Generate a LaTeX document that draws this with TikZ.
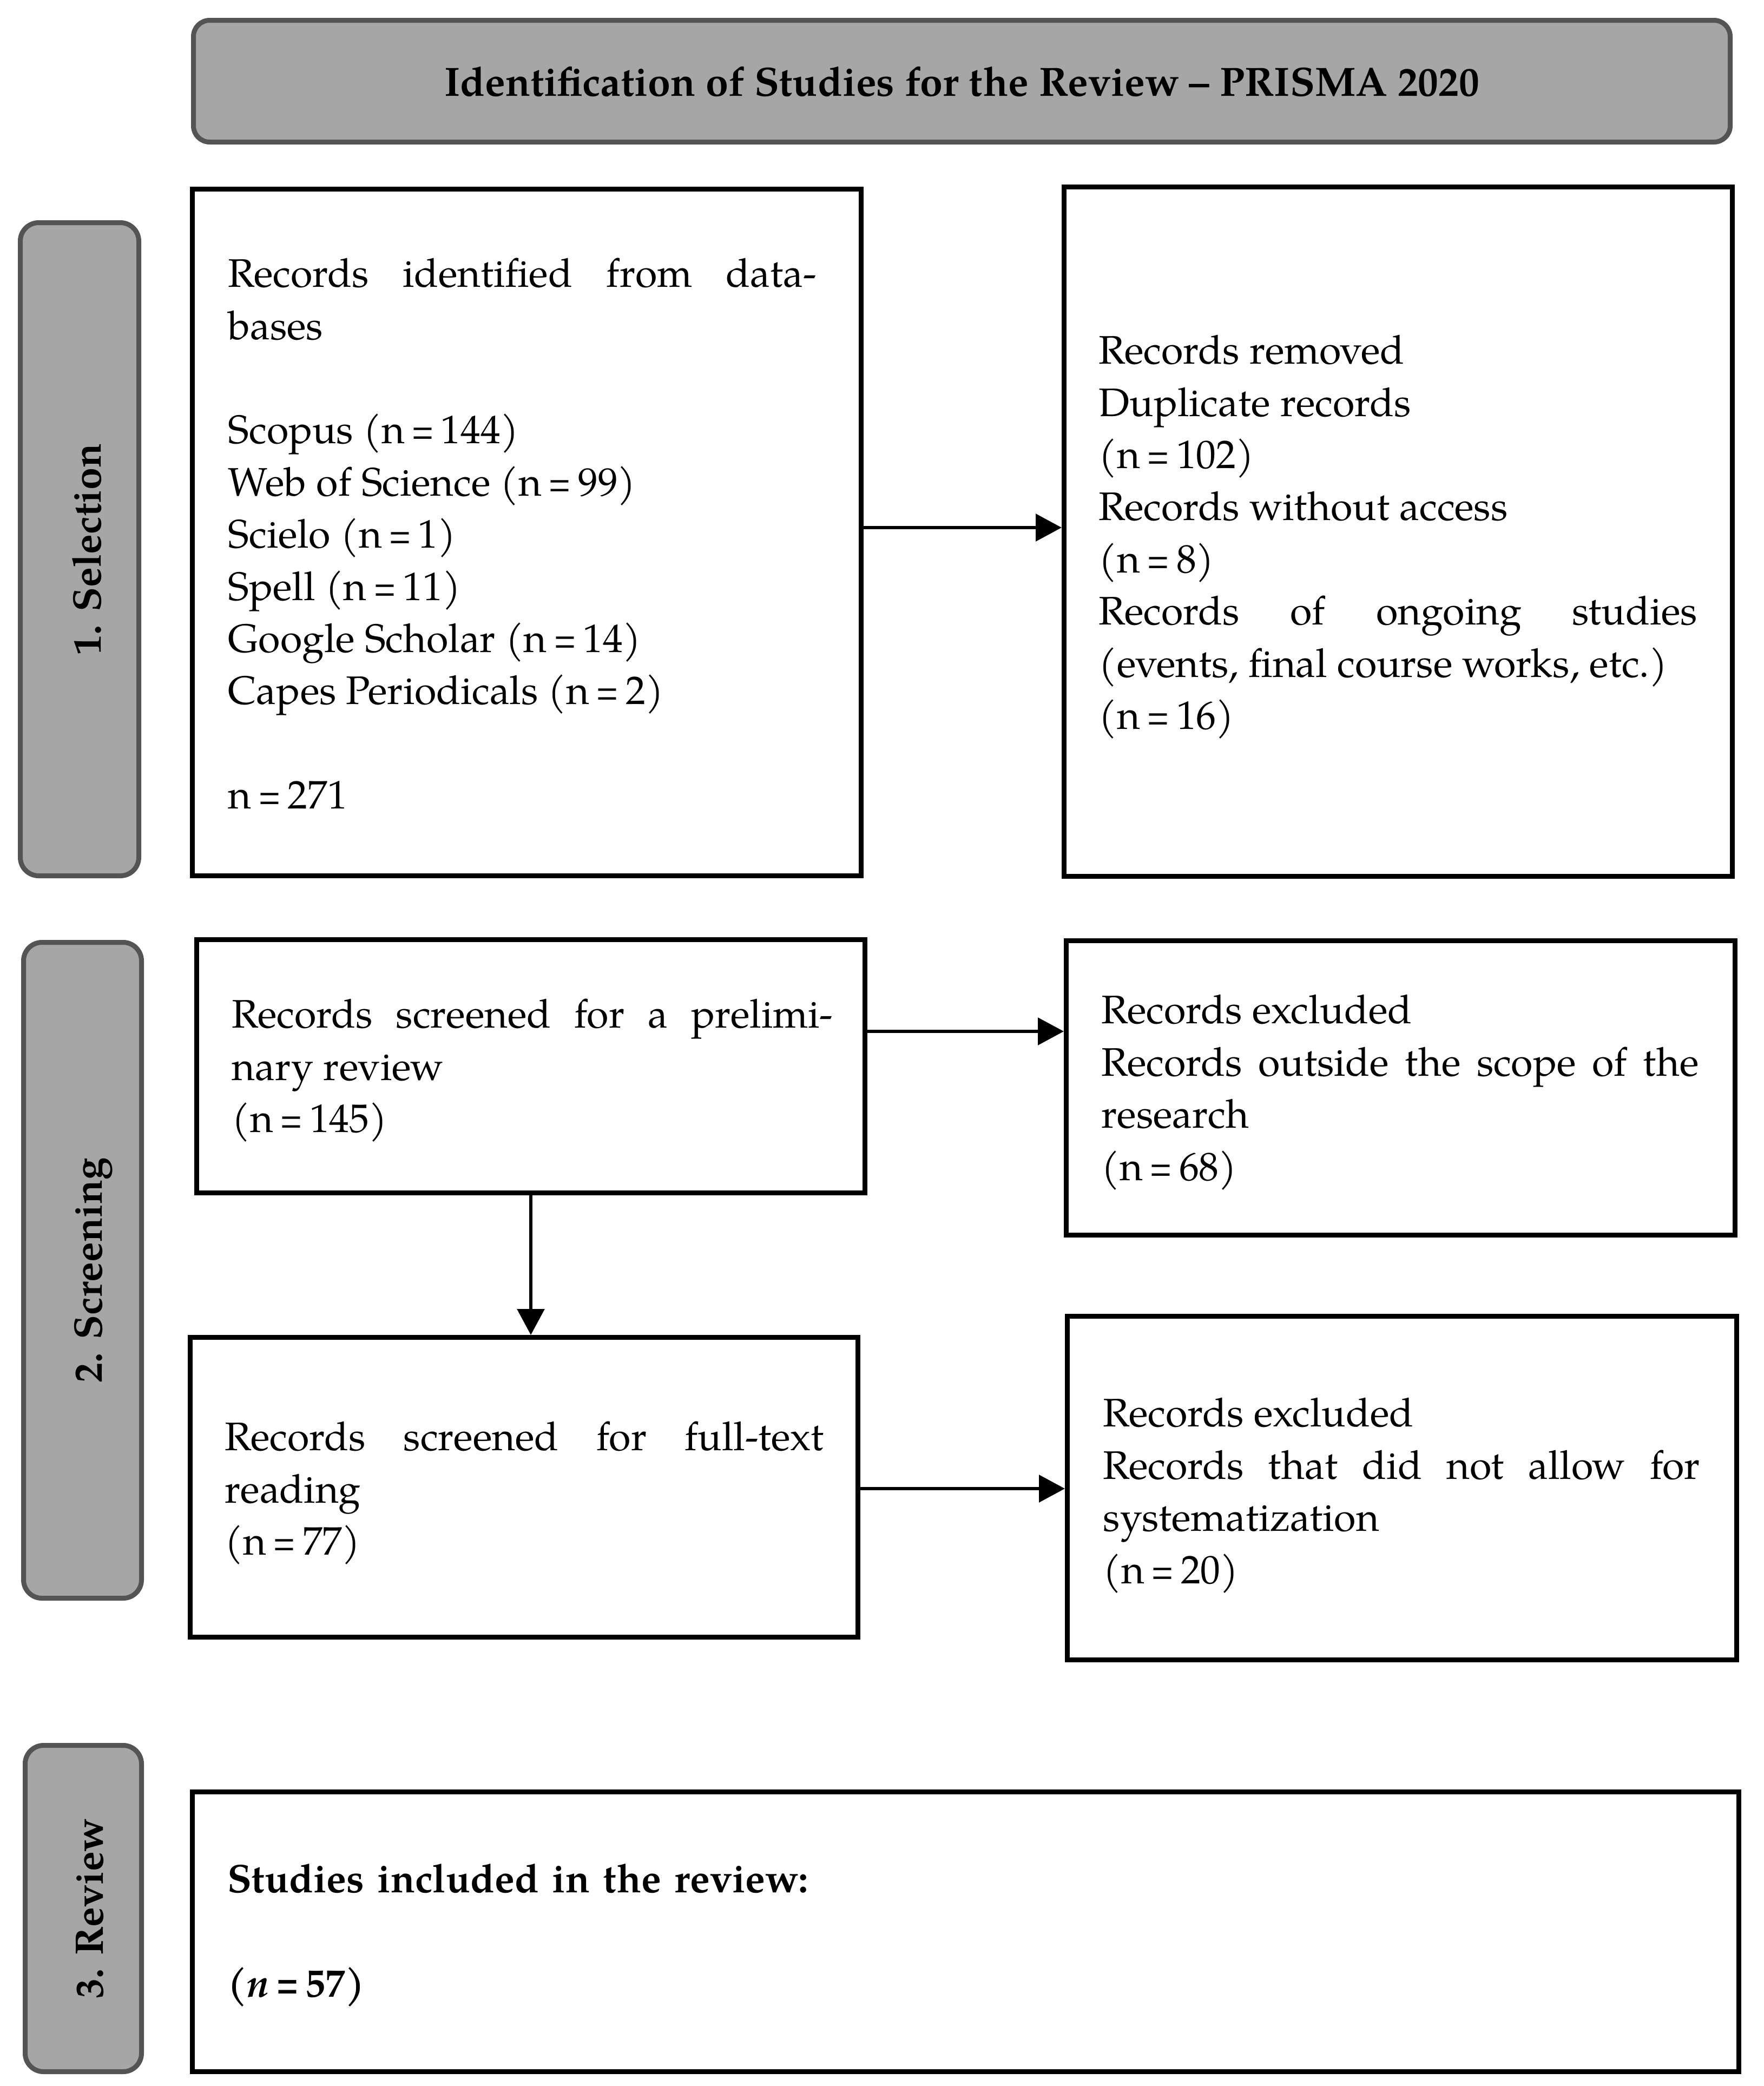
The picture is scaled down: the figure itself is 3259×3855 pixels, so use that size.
\documentclass[tikz,border=0pt]{standalone}
\usepackage{graphicx}
\usepackage{fontspec}
\setmainfont{texgyrepagella}[Extension=.otf,UprightFont=*-regular,BoldFont=*-bold,ItalicFont=*-italic,BoldItalicFont=*-bolditalic]
\usetikzlibrary{arrows.meta}
\definecolor{barfill}{HTML}{A6A6A6}
\definecolor{barline}{HTML}{545454}
\newcommand{\eqs}{\kern0.17em\scalebox{0.75}[1]{=}\kern0.17em}
\newcommand{\eqb}{\kern0.17em\scalebox{0.75}[1]{=}\kern0.17em}
\begin{document}
\begin{tikzpicture}[x=0.25pt,y=-0.25pt,
  box/.style={draw=black,line width=2.25pt,rectangle,inner sep=0pt,fill=white},
  bar/.style={draw=barline,fill=barfill,line width=2.25pt,rounded corners=8.5pt,rectangle,inner sep=0pt},
  txt/.style={anchor=north west,inner sep=0pt,align=justify,font=\fontsize{18.4}{24.1}\selectfont},
  lbl/.style={font=\fontsize{18.4}{24.1}\selectfont\bfseries,inner sep=0pt},
  arr/.style={line width=1.5pt,-{Triangle[length=12pt,width=12.5pt]}}
]
\useasboundingbox (0,0) rectangle (3259,3855);
\fill[white] (0,0) rectangle (3259,3855);

% title
\node[bar,rounded corners=7.5pt,minimum width=710pt,minimum height=56.25pt] (title) at (1777.5,150) {};
\node[lbl,anchor=base,font=\fontsize{18.85}{24.1}\selectfont\bfseries] (titletext) at (1777.5,177) {Identification of Studies for the Review – PRISMA 2020};

% side bars
\node[bar,minimum width=54.75pt,minimum height=301.75pt] (sel) at (147,1015) {};
\node[lbl,rotate=90,anchor=base] (seltext) at (186,1015) {1. Selection};
\node[bar,minimum width=54.5pt,minimum height=303pt] (scr) at (152.5,2347.5) {};
\node[lbl,rotate=90,anchor=base] (scrtext) at (188,2347.5) {2. Screening};
\node[bar,minimum width=53.75pt,minimum height=150.75pt] (rev) at (154,3527) {};
\node[lbl,rotate=90,anchor=base] (revtext) at (190,3527) {3. Review};

% boxes
\node[box,minimum width=309pt,minimum height=317.25pt] (b1) at (973.5,984) {};
\node[box,minimum width=308.75pt,minimum height=318.5pt] (b2) at (2584,982.5) {};
\node[box,minimum width=308.75pt,minimum height=117pt] (b3) at (981,1970.5) {};
\node[box,minimum width=309pt,minimum height=136pt] (b4) at (2588.5,2010.5) {};
\node[box,minimum width=308.5pt,minimum height=138.5pt] (b5) at (968.5,2748.5) {};
\node[box,minimum width=309.25pt,minimum height=158.75pt] (b6) at (2591,2750) {};
\node[box,minimum width=714.5pt,minimum height=129.25pt] (b7) at (1784.5,3570) {};

% texts
\node[txt,text width=271.75pt] (t1) at (421,462.5) {\strut Records identified from data-\linebreak bases\\\mbox{}\\Scopus (n\eqs 144)\\Web of Science (n\eqs 99)\\Scielo (n\eqs 1)\\Spell (n\eqs 11)\\Google Scholar (n\eqs 14)\\Capes Periodicals (n\eqs 2)\\\mbox{}\\n\eqs 271};
\node[txt,text width=276.5pt] (t2) at (2030,604.5) {\strut Records removed\\Duplicate records\\(n\eqs 102)\\Records without access\\(n\eqs 8)\\Records of ongoing studies\linebreak (events, final course works, etc.)\\(n\eqs 16)};
\node[txt,text width=277.5pt] (t3) at (428,1831.5) {\strut Records screened for a prelimi-\linebreak nary review\\(n\eqs 145)};
\node[txt,text width=276pt] (t4) at (2035,1823.5) {\strut Records excluded\\Records outside the scope of the\linebreak research\\(n\eqs 68)};
\node[txt,text width=276.75pt] (t5) at (415,2612.5) {\strut Records screened for full-text\linebreak reading\\(n\eqs 77)};
\node[txt,text width=275.75pt] (t6) at (2038,2568.5) {\strut Records excluded\\Records that did not allow for\linebreak systematization\\(n\eqs 20)};
\node[txt,align=left,text width=650pt] (t7) at (420,3429.5) {\strut\textbf{Studies included in the review:}\\\mbox{}\\\textbf{(\textit{n}\eqb 57)}};

% connectors
\draw[arr] ([yshift=2.25pt]b1.east) -- ([yshift=2.25pt]b1.east -| b2.west);
\draw[arr] ([yshift=16.125pt]b3.east) -- ([yshift=16.125pt]b3.east -| b4.west);
\draw[arr] (b3.south) -- (b3.south |- b5.north);
\draw[arr] ([yshift=-0.625pt]b5.east) -- ([yshift=-0.625pt]b5.east -| b6.west);
\end{tikzpicture}
\end{document}
